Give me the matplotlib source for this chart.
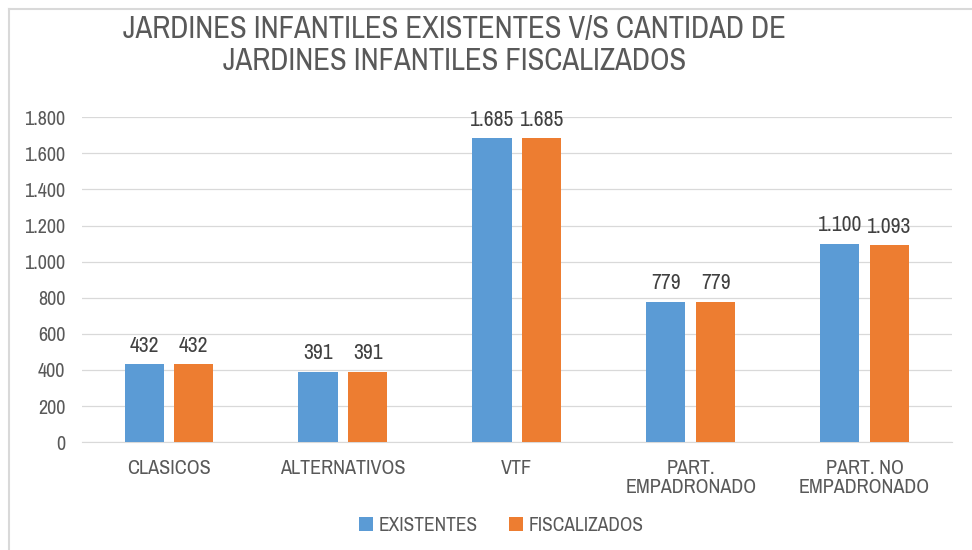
import matplotlib
matplotlib.use("Agg")
import matplotlib.pyplot as plt
from matplotlib.ticker import FuncFormatter
from matplotlib.lines import Line2D
import numpy as np

plt.rcParams['font.family'] = ['Archivo Narrow', 'DejaVu Sans']

categories = ["CLASICOS", "ALTERNATIVOS", "VTF", "PART.\nEMPADRONADO", "PART. NO\nEMPADRONADO"]
existentes = [432, 391, 1685, 779, 1100]
fiscalizados = [432, 391, 1685, 779, 1093]
series_names = ["EXISTENTES", "FISCALIZADOS"]
title = "JARDINES INFANTILES EXISTENTES V/S CANTIDAD DE\nJARDINES INFANTILES FISCALIZADOS"

c_blue = "#5B9BD5"
c_orange = "#ED7D31"
txt = "#595959"

def fmt(v):
    return f"{int(v):,}".replace(",", ".")

fig = plt.figure(figsize=(9.72, 5.5), dpi=100)
ax = fig.add_axes([0.0844, 0.196, 0.8946, 0.591])

x = np.arange(len(categories))
w = 0.225
off = 0.143
b1 = ax.bar(x - off, existentes, w, color=c_blue, label=series_names[0], zorder=3)
b2 = ax.bar(x + off, fiscalizados, w, color=c_orange, label=series_names[1], zorder=3)

for bars, vals in ((b1, existentes), (b2, fiscalizados)):
    for b, v in zip(bars, vals):
        ax.text(b.get_x() + b.get_width() / 2, v + 45, fmt(v), ha="center", va="bottom",
                fontsize=15.5, color="#404040")

ax.set_xlim(-0.5, len(categories) - 0.5)
ax.set_ylim(0, 1800)
ax.set_yticks(np.arange(0, 1801, 200))
ax.yaxis.set_major_formatter(FuncFormatter(lambda v, p: fmt(v)))
ax.set_xticks(x)
ax.set_xticklabels(categories, linespacing=1.0)
ax.tick_params(axis="both", length=0, labelsize=14.5, colors=txt)
ax.tick_params(axis="x", pad=12)
ax.tick_params(axis="y", pad=12)
ax.grid(axis="y", color="#D9D9D9", linewidth=0.9, zorder=0)
for s in ("top", "right", "left"):
    ax.spines[s].set_visible(False)
ax.spines["bottom"].set_color("#D9D9D9")

fig.text(0.468, 0.972, title, ha="center", va="top", fontsize=22, color=txt, linespacing=1.15)

leg = fig.legend(handles=[b1, b2], labels=series_names, loc="center", bbox_to_anchor=(0.516, 0.045),
                 ncol=2, frameon=False, fontsize=14, handlelength=0.7, handleheight=0.7,
                 handletextpad=0.3, columnspacing=1.6, labelcolor=txt)

# chart border
fig.add_artist(Line2D([0.0095, 1.0], [0.984, 0.984], transform=fig.transFigure, color="#D9D9D9", lw=1.5))
fig.add_artist(Line2D([0.0095, 0.0095], [0.0, 0.984], transform=fig.transFigure, color="#D9D9D9", lw=1.5))

fig.savefig("out.png", dpi=100)
